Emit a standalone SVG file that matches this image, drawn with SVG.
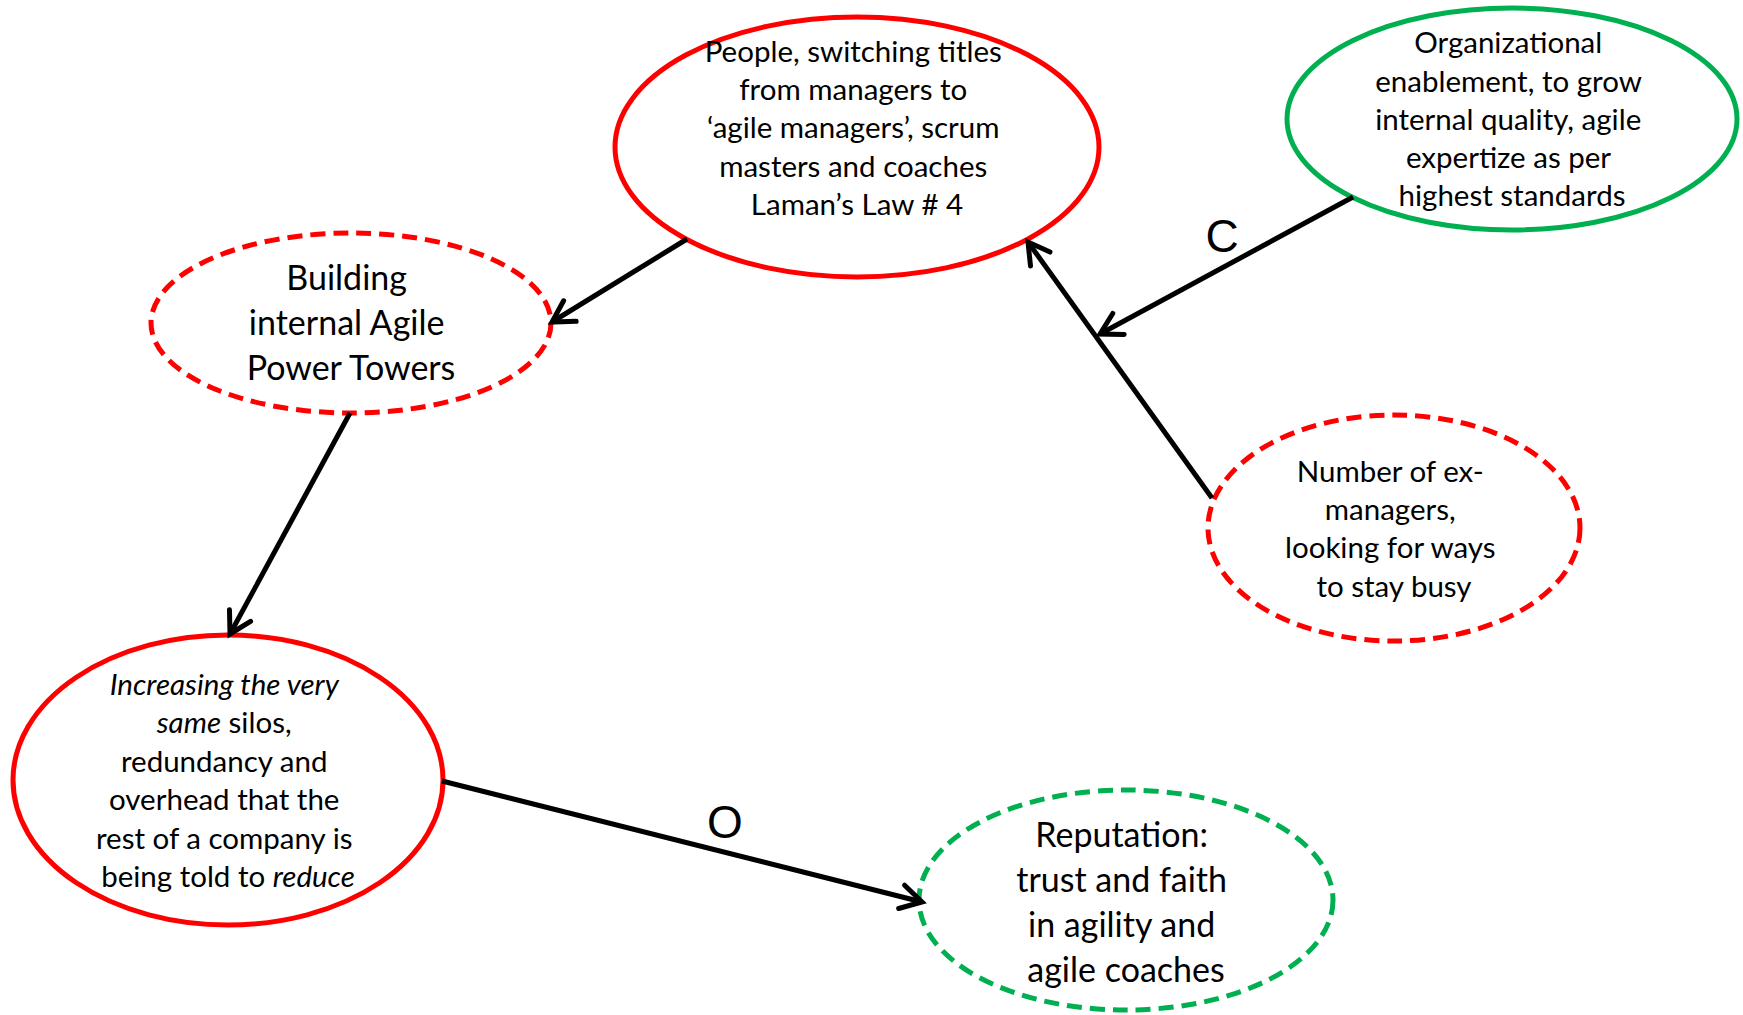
<svg xmlns="http://www.w3.org/2000/svg" width="1743" height="1015" viewBox="0 0 1743 1015">
<style>
  .node { fill: #FFFFFF; stroke-width: 5; }
  .red { stroke: #FF0000; }
  .green { stroke: #00B050; }
  .dash { stroke-dasharray: 15 8; }
  .t { font-family: Lato, "Liberation Sans", sans-serif; fill: #000000; text-anchor: middle; }
  .s28 { font-size: 29.5px; }
  .s31 { font-size: 34px; }
  .lbl { font-family: "Liberation Sans", Arial, sans-serif; font-size: 46px; fill: #000000; text-anchor: middle; }
  .edge { stroke: #000000; stroke-width: 5; fill: none; marker-end: url(#arr); }
</style>
<defs>
  <marker id="arr" markerUnits="userSpaceOnUse" viewBox="-30 -20 40 40" markerWidth="40" markerHeight="40" refX="0" refY="0" orient="auto" overflow="visible">
    <path d="M -21 -12 L 0 0 L -21 12" fill="none" stroke="#000000" stroke-width="5" stroke-linecap="round" stroke-linejoin="miter"/>
  </marker>
</defs>
<rect width="1743" height="1015" fill="#FFFFFF"/>

<g id="n-people">
  <ellipse class="node red" cx="857" cy="147" rx="242" ry="130"/>
  <text class="t s28">
    <tspan x="857" y="62">People, switching titles</tspan>
    <tspan x="857" y="100">from managers to</tspan>
    <tspan x="857" y="138">‘agile managers’, scrum</tspan>
    <tspan x="857" y="177">masters and coaches</tspan>
    <tspan x="857" y="215">Laman’s Law # 4</tspan>
  </text>
</g>

<g id="n-org">
  <ellipse class="node green" cx="1512" cy="119" rx="225" ry="111"/>
  <text class="t s28">
    <tspan x="1512" y="53">Organizational</tspan>
    <tspan x="1512" y="92">enablement, to grow</tspan>
    <tspan x="1512" y="130">internal quality, agile</tspan>
    <tspan x="1512" y="168">expertize as per</tspan>
    <tspan x="1512" y="206">highest standards</tspan>
  </text>
</g>

<g id="n-building">
  <ellipse class="node red dash" cx="351" cy="323" rx="200" ry="90"/>
  <text class="t s31">
    <tspan x="351" y="290">Building</tspan>
    <tspan x="351" y="335">internal Agile</tspan>
    <tspan x="351" y="380">Power Towers</tspan>
  </text>
</g>

<g id="n-number">
  <ellipse class="node red dash" cx="1394" cy="528" rx="186" ry="113"/>
  <text class="t s28">
    <tspan x="1394" y="482">Number of ex-</tspan>
    <tspan x="1394" y="520">managers,</tspan>
    <tspan x="1394" y="558">looking for ways</tspan>
    <tspan x="1394" y="597">to stay busy</tspan>
  </text>
</g>

<g id="n-increasing">
  <ellipse class="node red" cx="228" cy="780" rx="215" ry="145"/>
  <text class="t s28">
    <tspan x="228" y="695" font-style="italic">Increasing the very</tspan>
    <tspan x="228" y="733"><tspan font-style="italic">same</tspan> silos,</tspan>
    <tspan x="228" y="772">redundancy and</tspan>
    <tspan x="228" y="810">overhead that the</tspan>
    <tspan x="228" y="849">rest of a company is</tspan>
    <tspan x="228" y="887">being told to <tspan font-style="italic">reduce</tspan></tspan>
  </text>
</g>

<g id="n-reputation">
  <ellipse class="node green dash" cx="1126" cy="900" rx="207" ry="110"/>
  <text class="t s31">
    <tspan x="1126" y="847">Reputation:</tspan>
    <tspan x="1126" y="892">trust and faith</tspan>
    <tspan x="1126" y="937">in agility and</tspan>
    <tspan x="1126" y="982">agile coaches</tspan>
  </text>
</g>

<g id="connectors">
  <line class="edge" x1="687" y1="239" x2="552" y2="322"/>
  <line class="edge" x1="350" y1="413" x2="230" y2="634"/>
  <line class="edge" x1="442" y1="781" x2="922" y2="902"/>
  <line class="edge" x1="1212" y1="498" x2="1028" y2="242"/>
  <line class="edge" x1="1353" y1="197" x2="1100" y2="334"/>
  <text class="lbl" x="1222" y="252">C</text>
  <text class="lbl" x="725" y="838">O</text>
</g>
</svg>
